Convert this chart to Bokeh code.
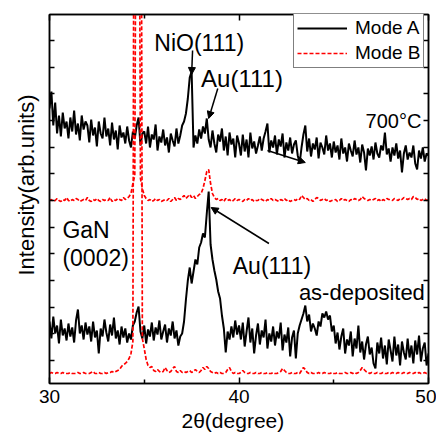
import numpy as np
from bokeh.plotting import figure
from bokeh.models import (Range1d, FixedTicker, LinearAxis, Label, Arrow, NormalHead,
                          Legend, LegendItem, Title)
from bokeh.embed import file_html
from bokeh.resources import INLINE

# scan grid, 2theta in degrees (0.1 deg step)
two_theta = np.round(30 + 0.1 * np.arange(201), 1)

# intensities (arb. units)
mode_a_700 = [
    275, 292, 258, 281, 250, 268, 247, 271, 255, 262,
    245, 266, 252, 273, 249, 260, 243, 268, 254, 262,
    258, 241, 264, 248, 256, 237, 262, 250, 245, 266,
    247, 255, 238, 261, 244, 253, 234, 258, 246, 251,
    240, 257, 243, 236, 252, 245, 258, 266, 238, 250,
    252, 240, 257, 236, 249, 244, 259, 233, 247, 241,
    254, 238, 246, 231, 250, 243, 237, 255, 240, 248,
    258, 262, 270, 285, 306, 312, 236, 248, 240, 254,
    245, 257, 250, 265, 244, 236, 253, 240, 231, 249,
    242, 255, 233, 247, 228, 251, 239, 245, 226, 248,
    240, 228, 249, 232, 244, 226, 251, 235, 242, 230,
    238, 247, 233, 245, 252, 260, 231, 243, 236, 248,
    229, 244, 237, 250, 226, 241, 233, 246, 230, 239,
    243, 228, 220, 236, 249, 258, 232, 245, 227, 240,
    234, 246, 225, 241, 236, 229, 248, 233, 240, 226,
    242, 231, 238, 224, 245, 230, 236, 222, 240, 233,
    227, 243, 229, 236, 221, 239, 231, 213, 235, 228,
    237, 224, 241, 230, 226, 238, 233, 251, 229, 235,
    222, 236, 228, 240, 225, 233, 211, 230, 238, 224,
    231, 226, 238, 220, 214, 233, 225, 236, 222, 230,
    228,
]

mode_b_700 = [
    183, 184, 182, 183, 185, 183, 182, 184, 183, 186,
    183, 182, 184, 183, 185, 184, 182, 183, 184, 183,
    186, 183, 182, 184, 183, 185, 183, 182, 184, 183,
    184, 183, 186, 182, 184, 183, 185, 184, 183, 186,
    184, 185, 187, 190, 200, 208, 700, 720, 205, 195,
    188, 185, 183, 184, 182, 183, 185, 183, 184, 182,
    183, 184, 183, 185, 182, 184, 186, 183, 185, 184,
    186, 188, 185, 187, 189, 186, 188, 185, 187, 189,
    190, 195, 203, 212, 214, 200, 190, 186, 184, 185,
    183, 184, 182, 185, 183, 184, 182, 183, 185, 183,
    184, 183, 182, 184, 183, 185, 183, 184, 182, 183,
    183, 185, 184, 183, 182, 184, 183, 185, 183, 184,
    183, 182, 184, 183, 185, 183, 184, 182, 183, 184,
    183, 185, 184, 188, 186, 184, 185, 183, 184, 182,
    184, 186, 185, 183, 184, 185, 183, 184, 182, 183,
    183, 184, 182, 183, 185, 183, 184, 183, 182, 184,
    183, 185, 184, 183, 184, 187, 185, 184, 183, 184,
    183, 184, 185, 183, 184, 182, 184, 183, 185, 184,
    184, 183, 185, 184, 183, 185, 184, 186, 185, 184,
    185, 184, 187, 186, 184, 185, 183, 184, 185, 183,
    184,
]

mode_a_asdep = [
    62, 45, 67, 50, 58, 40, 64, 48, 55, 43,
    60, 47, 56, 41, 63, 74, 50, 58, 44, 61,
    49, 57, 42, 62, 46, 53, 30, 55, 47, 64,
    51, 42, 59, 48, 66, 45, 53, 39, 57, 46,
    55, 41, 50, 44, 58, 62, 71, 77, 52, 45,
    58, 40, 54, 47, 61, 43, 56, 49, 63, 44,
    52, 59, 41, 55, 48, 62, 45, 53, 38, 47,
    50, 62, 84, 103, 116, 100, 112, 124, 119, 136,
    141, 150, 146, 170, 192, 139, 124, 113, 104, 92,
    85, 68, 55, 31, 52, 44, 57, 46, 63, 49,
    58, 44, 61, 37, 52, 66, 41, 55, 30, 48,
    60, 39, 53, 46, 64, 35, 50, 42, 57, 38,
    52, 45, 61, 33, 49, 41, 56, 27, 46, 53,
    25, 50, 58, 64, 70, 78, 62, 69, 52, 60,
    55, 48, 62, 57, 70, 66, 72, 64, 68, 52,
    58, 40, 51, 34, 47, 55, 30, 44, 38, 52,
    27, 45, 35, 58, 31, 42, 24, 39, 47, 29,
    36, 20, 15, 41, 30, 46, 25, 38, 19, 44,
    33, 22, 47, 28, 39, 18, 42, 31, 24, 45,
    26, 38, 20, 43, 29, 48, 22, 35, 41, 18,
    30,
]

mode_b_asdep = [
    10, 11, 10, 10, 11, 10, 10, 11, 10, 10,
    10, 11, 10, 10, 10, 11, 10, 10, 11, 10,
    10, 10, 11, 12, 10, 10, 11, 10, 10, 11,
    10, 11, 11, 12, 11, 12, 13, 14, 17, 19,
    20, 22, 25, 30, 42, 900, 1000, 950, 900, 45,
    35, 24, 18, 16, 17, 13, 12, 14, 12, 11,
    12, 16, 13, 11, 12, 15, 17, 12, 11, 13,
    11, 12, 11, 12, 13, 11, 12, 14, 12, 11,
    13, 16, 14, 17, 15, 12, 11, 10, 11, 10,
    11, 10, 10, 11, 14, 16, 12, 10, 11, 10,
    10, 11, 13, 11, 10, 10, 11, 10, 10, 11,
    10, 10, 11, 10, 10, 11, 10, 10, 11, 10,
    10, 11, 12, 15, 13, 11, 10, 10, 11, 10,
    10, 11, 10, 13, 16, 14, 11, 10, 11, 10,
    10, 10, 11, 10, 10, 11, 10, 10, 10, 11,
    10, 10, 11, 10, 10, 10, 11, 10, 10, 11,
    10, 11, 10, 11, 13, 16, 14, 12, 11, 10,
    11, 10, 10, 11, 10, 10, 11, 10, 10, 11,
    10, 11, 10, 10, 11, 10, 10, 11, 10, 10,
    11, 10, 10, 11, 10, 11, 10, 10, 11, 10,
    10,
]

x_tick_values = [30, 40, 50]
x_minor_values = [35, 45]
legend_labels = ["Mode A", "Mode B"]

FONT = "Liberation Sans"

p = figure(width=436, height=436, x_range=Range1d(30, 50), y_range=Range1d(0, 369),
           output_backend="svg", toolbar_location=None,
           min_border_left=48, min_border_right=8, min_border_top=14, min_border_bottom=53,
           background_fill_color="white", border_fill_color="white")
p.outline_line_color = "black"
p.outline_line_width = 1.5
p.grid.visible = False

y_ticks = [23 + k * 80 / 3 for k in range(14)]
xt = FixedTicker(ticks=x_tick_values, minor_ticks=x_minor_values)
yt = FixedTicker(ticks=y_ticks, minor_ticks=[])

def style_x(ax, labels=True):
    ax.ticker = xt
    ax.axis_line_color = "black"
    ax.axis_line_width = 1.5
    ax.major_tick_in = 6
    ax.major_tick_out = 0
    ax.minor_tick_in = 4
    ax.minor_tick_out = 0
    ax.major_tick_line_width = 1.5
    ax.minor_tick_line_width = 1.5
    if labels:
        ax.major_label_text_font = FONT
        ax.major_label_text_font_size = "19px"
        ax.major_label_text_color = "black"
        ax.major_label_standoff = 6
    else:
        ax.major_label_text_font_size = "0px"
        ax.major_label_standoff = 0

def style_y(ax):
    ax.ticker = yt
    ax.axis_line_color = "black"
    ax.axis_line_width = 1.5
    ax.major_tick_in = 5
    ax.major_tick_out = 0
    ax.minor_tick_in = 0
    ax.minor_tick_out = 0
    ax.major_tick_line_width = 1.5
    ax.major_label_text_font_size = "0px"
    ax.major_label_standoff = 0

style_x(p.xaxis[0])
style_y(p.yaxis[0])
top = LinearAxis()
style_x(top, labels=False)
p.add_layout(top, "above")
right = LinearAxis()
style_y(right)
p.add_layout(right, "right")

p.add_layout(Title(text="Intensity(arb.units)", align="left", offset=108, standoff=22,
                   text_font=FONT, text_font_size="22px", text_font_style="normal",
                   text_color="black"), "left")
p.add_layout(Title(text="2θ(degree)", align="left", offset=132, standoff=2,
                   text_font=FONT, text_font_size="21px", text_font_style="normal",
                   text_color="black"), "below")

ra1 = p.line(two_theta, mode_a_700, line_color="black", line_width=2)
rb1 = p.line(two_theta, mode_b_700, line_color="red", line_width=1.7, line_dash="4 2")
ra2 = p.line(two_theta, mode_a_asdep, line_color="black", line_width=2)
rb2 = p.line(two_theta, mode_b_asdep, line_color="red", line_width=1.7, line_dash="4 2")

def lab(x, y, t, size, align="left"):
    p.add_layout(Label(x=x, y=y, text=t, text_font=FONT, text_font_size=size,
                       text_color="black", text_align=align, text_baseline="middle"))

lab(35.53, 341, "NiO(111)", "23px")
lab(38.0, 305, "Au(111)", "24px")
lab(46.68, 263, "700°C", "20px")
lab(30.68, 154, "GaN", "23px")
lab(30.68, 126, "(0002)", "23px")
lab(39.67, 118, "Au(111)", "23px")
lab(43.16, 91, "as-deposited", "22px")

def arrow(x0, y0, x1, y1):
    p.add_layout(Arrow(x_start=x0, y_start=y0, x_end=x1, y_end=y1,
                       line_color="black", line_width=1.5,
                       end=NormalHead(size=7, fill_color="black", line_color="black")))

arrow(37.55, 333, 37.5, 309)
arrow(38.88, 295, 38.4, 265)
arrow(41.5, 233, 43.5, 221)
arrow(41.58, 140, 38.53, 176)

legend = Legend(items=[LegendItem(label=legend_labels[0], renderers=[ra1]),
                       LegendItem(label=legend_labels[1], renderers=[rb1])],
                location=(244, 315))
legend.label_text_font = FONT
legend.label_text_font_size = "19px"
legend.label_text_color = "black"
legend.glyph_width = 50
legend.glyph_height = 20
legend.label_height = 20
legend.label_standoff = 8
legend.padding = 3
legend.spacing = 3
legend.margin = 0
legend.border_line_color = "black"
legend.border_line_width = 1.5
legend.background_fill_alpha = 1.0
p.add_layout(legend)

open("out.html", "w").write(file_html(p, INLINE))
